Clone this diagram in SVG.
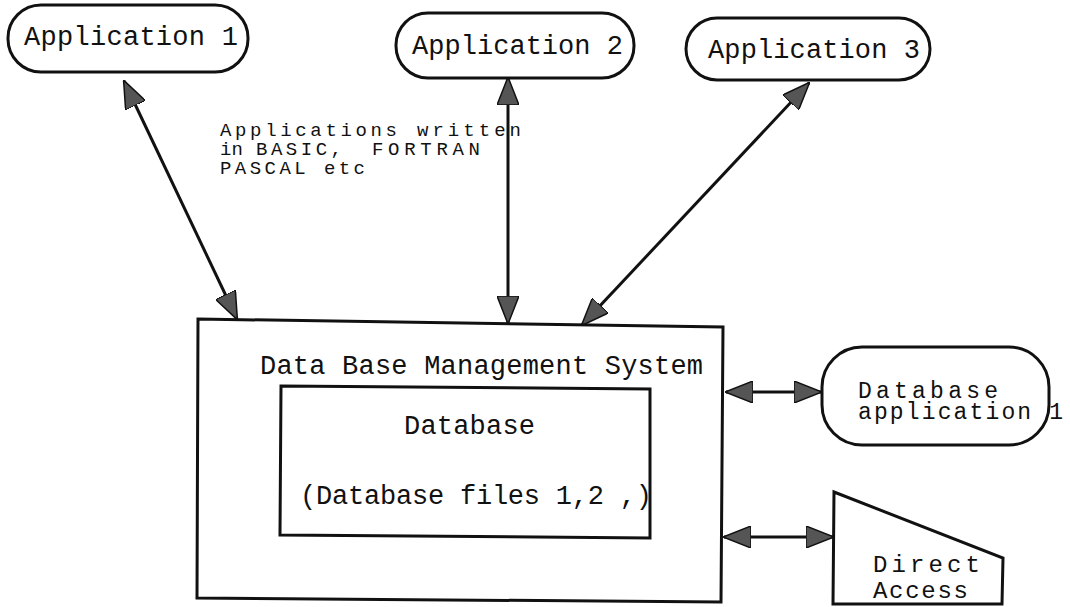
<svg xmlns="http://www.w3.org/2000/svg" width="1070" height="607" viewBox="0 0 1070 607">
<style>
  .shape { fill: #fff; stroke: #111; stroke-width: 3; }
  .lbl { font-family: "Liberation Mono", "Courier New", monospace; font-size: 27px; fill: #111; }
  .note { font-family: "Liberation Mono", "Courier New", monospace; font-size: 19px; fill: #111; }
  .conn { stroke: #111; stroke-width: 3; fill: none; marker-start: url(#ah); marker-end: url(#ah); }
</style>
<defs>
  <marker id="ah" viewBox="0 0 28 22" refX="27" refY="11" markerWidth="28" markerHeight="22" markerUnits="userSpaceOnUse" orient="auto-start-reverse">
    <path d="M0,0 L28,11 L0,22 z" fill="#555" stroke="#111" stroke-width="1.5"/>
  </marker>
</defs>
<rect width="1070" height="607" fill="#fff"/>

<g id="connectors">
  <line class="conn" x1="124" y1="81" x2="237" y2="319"/>
  <line class="conn" x1="508" y1="78" x2="508" y2="323"/>
  <line class="conn" x1="809" y1="83" x2="582" y2="325"/>
  <line class="conn" x1="726" y1="392" x2="821" y2="392"/>
  <line class="conn" x1="724" y1="537" x2="833" y2="537"/>
</g>

<g id="app1">
  <rect class="shape" x="8" y="5" width="240" height="67" rx="33"/>
  <text class="lbl" x="24" y="45" textLength="214" lengthAdjust="spacing">Application 1</text>
</g>

<g id="app2">
  <rect class="shape" x="396" y="13" width="238" height="65" rx="32"/>
  <text class="lbl" x="412" y="54" textLength="211" lengthAdjust="spacing">Application 2</text>
</g>

<g id="app3">
  <rect class="shape" x="686" y="18" width="244" height="62" rx="31"/>
  <text class="lbl" x="708" y="58" textLength="212" lengthAdjust="spacing">Application 3</text>
</g>

<g id="note">
  <text class="note" x="220" y="136"><tspan x="220" textLength="177" lengthAdjust="spacing">Applications</tspan><tspan x="417" textLength="104" lengthAdjust="spacing">written</tspan></text>
  <text class="note" x="220" y="155"><tspan x="220">in</tspan><tspan x="256" textLength="86" lengthAdjust="spacing">BASIC,</tspan><tspan x="372" textLength="108" lengthAdjust="spacing">FORTRAN</tspan></text>
  <text class="note" x="220" y="174" textLength="145" lengthAdjust="spacing">PASCAL etc</text>
</g>

<g id="dbms">
  <polygon class="shape" points="198,319 723,327 721,602 197,598"/>
  <text class="lbl" x="260" y="374" textLength="443" lengthAdjust="spacing">Data Base Management System</text>
</g>

<g id="database">
  <polygon class="shape" points="281,386 650,389 650,538 280,535"/>
  <text class="lbl" x="404" y="434" textLength="131" lengthAdjust="spacing">Database</text>
  <text class="lbl" x="300" y="504" textLength="352" lengthAdjust="spacing">(Database files 1,2 ,)</text>
</g>

<g id="dbapp">
  <rect class="shape" x="822" y="347" width="227" height="98" rx="40"/>
  <text class="lbl" x="858" y="398" textLength="140" lengthAdjust="spacing" style="font-size:23px">Database</text>
  <text class="lbl" x="858" y="419" textLength="205" lengthAdjust="spacing" style="font-size:23px">application 1</text>
</g>

<g id="direct">
  <polygon class="shape" points="834,492 1003,558 1002,604 833,604"/>
  <text class="lbl" x="873" y="572" textLength="107" lengthAdjust="spacing" style="font-size:24px">Direct</text>
  <text class="lbl" x="873" y="598" textLength="95" lengthAdjust="spacing" style="font-size:24px">Access</text>
</g>
</svg>
